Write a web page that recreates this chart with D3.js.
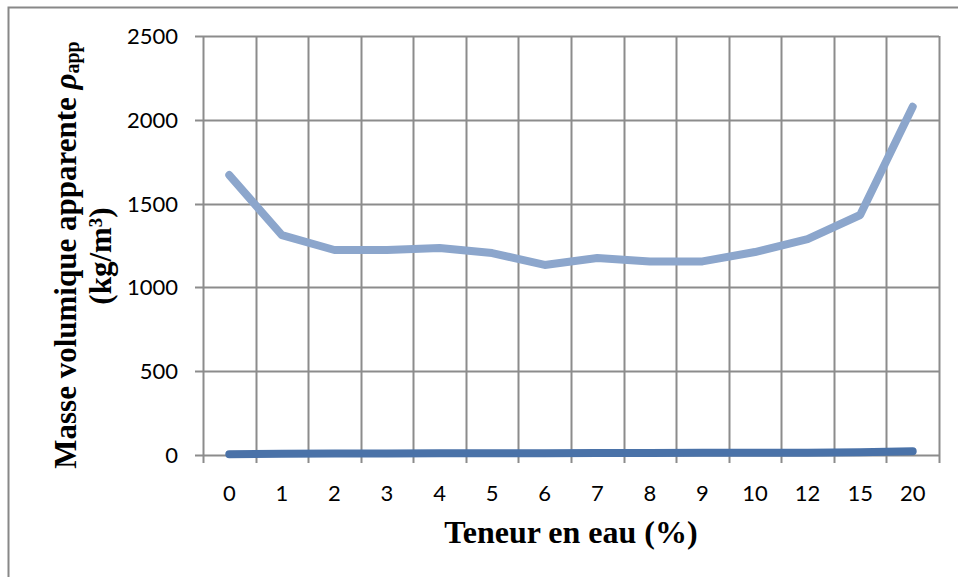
<!DOCTYPE html>
<html>
<head>
<meta charset="utf-8">
<script src="https://cdn.jsdelivr.net/npm/d3@7"></script>
<style>
  body { margin: 0; background: #fff; }
  svg { display: block; }
</style>
</head>
<body>
<svg id="chart" width="958" height="577"></svg>
<script>
const width = 958;
const height = 577;

// teneur en eau (%)
const categories = ["0", "1", "2", "3", "4", "5", "6", "7", "8", "9", "10", "12", "15", "20"];
// masse volumique apparente (kg/m3)
const densite = [1670, 1312, 1223, 1223, 1235, 1205, 1134, 1175, 1155, 1155, 1211, 1288, 1432, 2078];
const serieBasse = [5, 8, 9, 9, 10, 11, 11, 12, 12, 13, 13, 14, 17, 22];
const yTicks = [0, 500, 1000, 1500, 2000, 2500];

const margin = { left: 203, right: 19, top: 36, bottom: 122 };
const innerW = width - margin.left - margin.right;
const innerH = height - margin.top - margin.bottom;

const svg = d3.select("#chart");

// cadre du graphique (dépasse de l'image à droite et en bas)
svg.append("path")
    .attr("d", `M8.5,${height} V7.5 H${width}`)
    .attr("fill", "none")
    .attr("stroke", "#888")
    .attr("stroke-width", 2);

const g = svg.append("g")
    .attr("transform", `translate(${margin.left},${margin.top})`);

const x = d3.scaleBand()
    .domain(categories)
    .range([0, innerW]);

const y = d3.scaleLinear()
    .domain([0, 2500])
    .range([innerH, 0]);

const gridColor = "#8c8c8c";
const tickFont = "Lato, 'Open Sans', sans-serif";

// grille horizontale + graduations
g.selectAll(".hgrid")
    .data(yTicks)
    .enter()
    .append("line")
    .attr("x1", -8)
    .attr("x2", innerW)
    .attr("y1", d => Math.round(y(d)) + 0.5)
    .attr("y2", d => Math.round(y(d)) + 0.5)
    .attr("stroke", gridColor)
    .attr("stroke-width", 2);

// grille verticale (entre les catégories)
const bounds = categories.map(c => x(c)).concat([innerW]);
g.selectAll(".vgrid")
    .data(bounds)
    .enter()
    .append("line")
    .attr("x1", d => Math.round(d) + 0.5)
    .attr("x2", d => Math.round(d) + 0.5)
    .attr("y1", 0)
    .attr("y2", innerH + 8)
    .attr("stroke", gridColor)
    .attr("stroke-width", 2);

// libellés axe Y
g.selectAll(".ylab")
    .data(yTicks)
    .enter()
    .append("text")
    .attr("x", -25)
    .attr("y", d => y(d))
    .attr("dy", "0.36em")
    .attr("text-anchor", "end")
    .attr("font-family", tickFont)
    .attr("font-size", 22)
    .attr("fill", "#000")
    .text(d => d);

// libellés axe X
g.selectAll(".xlab")
    .data(categories)
    .enter()
    .append("text")
    .attr("x", d => x(d) + x.bandwidth() / 2)
    .attr("y", innerH + 46)
    .attr("text-anchor", "middle")
    .attr("font-family", tickFont)
    .attr("font-size", 22)
    .attr("fill", "#000")
    .text(d => d);

const line = d3.line()
    .x((d, i) => x(categories[i]) + x.bandwidth() / 2)
    .y(d => y(d));

g.append("path")
    .datum(serieBasse)
    .attr("d", line)
    .attr("fill", "none")
    .attr("stroke", "#4a72a8")
    .attr("stroke-width", 8)
    .attr("stroke-linecap", "round")
    .attr("stroke-linejoin", "round");

g.append("path")
    .datum(densite)
    .attr("d", line)
    .attr("fill", "none")
    .attr("stroke", "#8ca6cc")
    .attr("stroke-width", 8)
    .attr("stroke-linecap", "round")
    .attr("stroke-linejoin", "round");

const serif = "'Liberation Serif', 'Times New Roman', serif";

// titre axe X
svg.append("text")
    .attr("x", margin.left + innerW / 2)
    .attr("y", 543)
    .attr("text-anchor", "middle")
    .attr("font-family", serif)
    .attr("font-weight", "bold")
    .attr("font-size", 32)
    .attr("fill", "#000")
    .text("Teneur en eau (%)");

// titre axe Y (deux lignes)
const yTitle = svg.append("text")
    .attr("transform", "translate(76,255) rotate(-90)")
    .attr("text-anchor", "middle")
    .attr("font-family", serif)
    .attr("font-weight", "bold")
    .attr("font-size", 31)
    .attr("fill", "#000");
yTitle.append("tspan").text("Masse volumique apparente ");
yTitle.append("tspan").attr("font-style", "italic").text("ρ");
yTitle.append("tspan").attr("font-size", 20).attr("dy", 3).text("app");

const yTitle2 = svg.append("text")
    .attr("transform", "translate(111,256) rotate(-90)")
    .attr("text-anchor", "middle")
    .attr("font-family", serif)
    .attr("font-weight", "bold")
    .attr("font-size", 31)
    .attr("fill", "#000");
yTitle2.append("tspan").text("(kg/m");
yTitle2.append("tspan").attr("font-size", 19).attr("dy", -9).text("3");
yTitle2.append("tspan").attr("dy", 9).text(")");
</script>
</body>
</html>
